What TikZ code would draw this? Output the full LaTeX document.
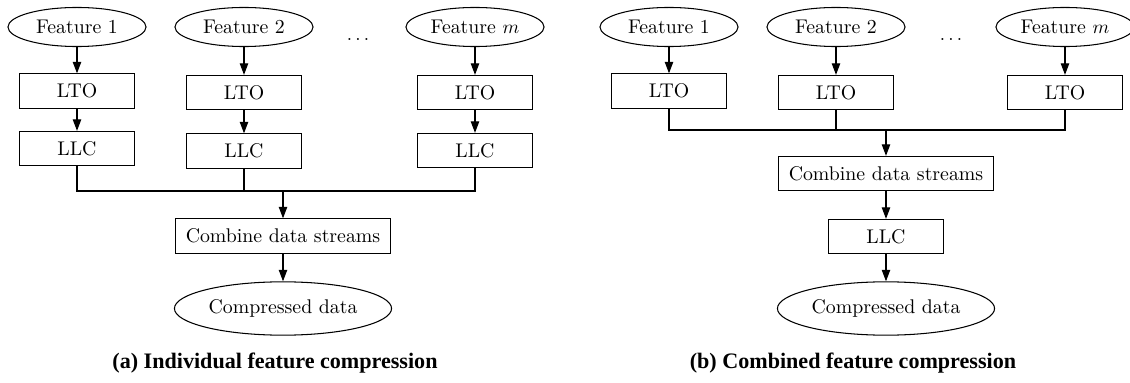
\documentclass[tikz,border=0pt]{standalone}
\usepackage{fontspec}
\newfontfamily\capfont{Liberation Serif}
\usetikzlibrary{arrows.meta,shapes.geometric}
\begin{document}
\begin{tikzpicture}[x=0.525pt,y=-0.525pt,->,line width=0.55pt,
    >={Triangle[length=6pt,width=4.4pt]},
    every node/.style={font=\fontsize{10.4pt}{12pt}\selectfont},
    feat/.style={draw,ellipse,minimum width=72.5pt,minimum height=20.5pt,inner sep=0pt},
    blk/.style={draw,minimum width=60.4pt,minimum height=18pt,inner sep=0pt},
    wideblk/.style={blk,minimum width=113pt},
    outdata/.style={feat,minimum width=114pt,minimum height=28pt},
    subcap/.style={font=\capfont\bfseries\fontsize{11.6pt}{13pt}\selectfont}]
  \useasboundingbox (0,0) rectangle (1130,383);
  % (a) every feature on its own
  \node[feat] (F1a) at (77,27) {Feature 1};
  \node[feat] (F2a) at (244,27) {Feature 2};
  \node[feat] (Fma) at (475,27) {Feature $m$};
  \node[inner sep=0pt] (dotsa) at (358,39) {$\ldots$};
  \node[blk] (LTO1a) at (77,91) {LTO};
  \node[blk] (LTO2a) at (244,92.5) {LTO};
  \node[blk] (LTOma) at (475,92.5) {LTO};
  \node[blk] (LLC1a) at (77,148.5) {LLC};
  \node[blk] (LLC2a) at (244,151) {LLC};
  \node[blk] (LLCma) at (475,150.5) {LLC};
  \coordinate (busa) at (283,191);
  \node[wideblk] (Comba) at (283,236) {Combine data streams};
  \node[outdata] (Outa) at (283,308.5) {Compressed data};
  \draw (F1a) -- (LTO1a);
  \draw (F2a) -- (LTO2a);
  \draw (Fma) -- (LTOma);
  \draw (LTO1a) -- (LLC1a);
  \draw (LTO2a) -- (LLC2a);
  \draw (LTOma) -- (LLCma);
  \draw[-] (LLC1a.south) |- (busa) -| (LLCma.south);
  \draw[-] (LLC2a.south) -- (LLC2a.south |- busa);
  \draw (busa) -- (Comba);
  \draw (Comba) -- (Outa);
  \node[subcap] (capa) at (275,363) {(a) Individual feature compression};
  % (b) features combined before LLC
  \node[feat] (F1b) at (669,27) {Feature 1};
  \node[feat] (F2b) at (836,27) {Feature 2};
  \node[feat] (Fmb) at (1065,27) {Feature $m$};
  \node[inner sep=0pt] (dotsb) at (951,39) {$\ldots$};
  \node[blk] (LTO1b) at (669,91) {LTO};
  \node[blk] (LTO2b) at (836,92.5) {LTO};
  \node[blk] (LTOmb) at (1065,92.5) {LTO};
  \coordinate (busb) at (886,130);
  \node[wideblk] (Combb) at (886,173.5) {Combine data streams};
  \node[blk] (LLCb) at (886,236.5) {LLC};
  \node[outdata] (Outb) at (886,308.5) {Compressed data};
  \draw (F1b) -- (LTO1b);
  \draw (F2b) -- (LTO2b);
  \draw (Fmb) -- (LTOmb);
  \draw[-] (LTO1b.south) |- (busb) -| (LTOmb.south);
  \draw[-] (LTO2b.south) -- (LTO2b.south |- busb);
  \draw (busb) -- (Combb);
  \draw (Combb) -- (LLCb);
  \draw (LLCb) -- (Outb);
  \node[subcap] (capb) at (853,363) {(b) Combined feature compression};
\end{tikzpicture}
\end{document}
